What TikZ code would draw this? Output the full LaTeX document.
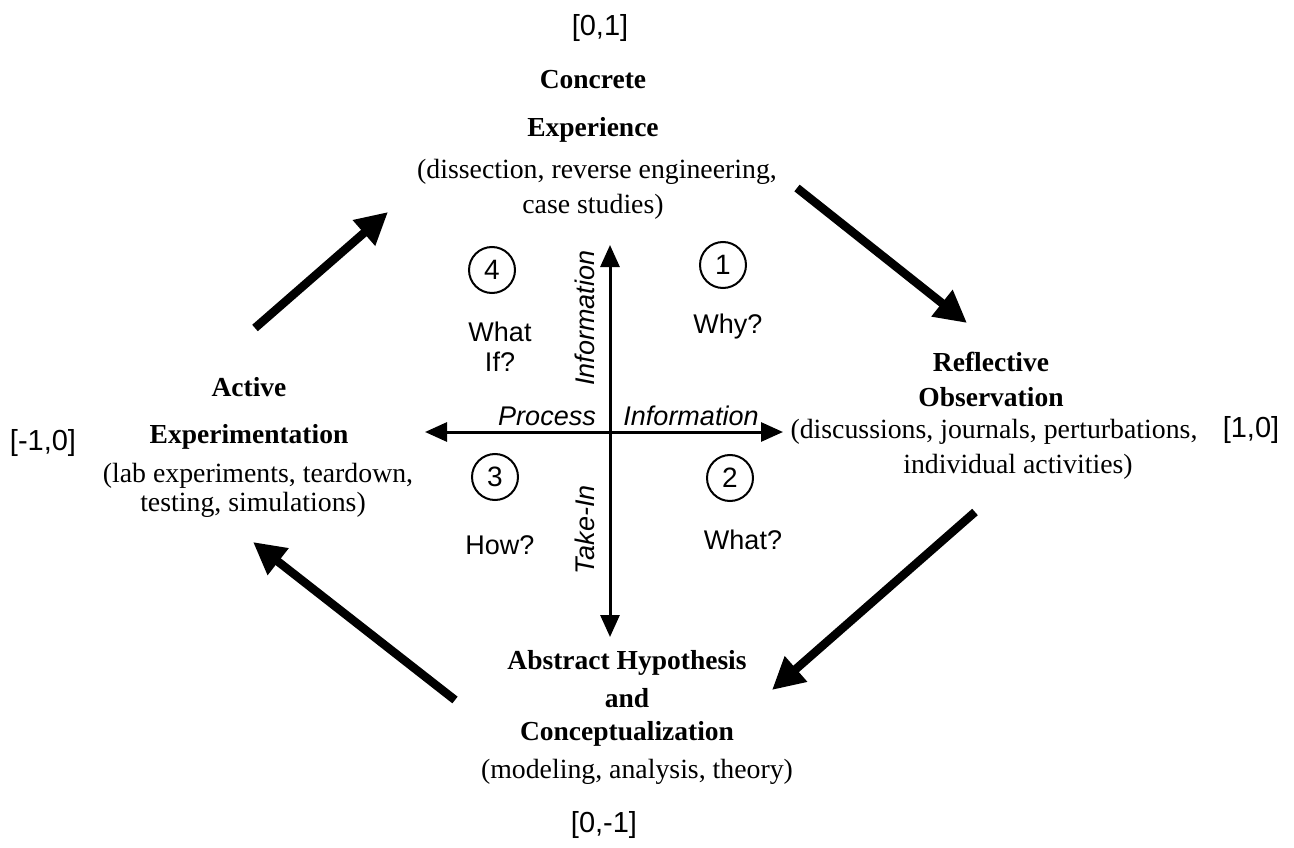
\documentclass[tikz,border=0pt]{standalone}
\usepackage{fontspec}
\setmainfont{Liberation Serif}
\newfontfamily\sansf{Liberation Sans}
\usetikzlibrary{arrows.meta}
\tikzset{
  title/.style={font=\fontsize{27.5}{30}\selectfont\bfseries, inner sep=0pt},
  paren/.style={font=\fontsize{27.8}{30}\selectfont, inner sep=0pt},
  lbl/.style={font=\sansf\fontsize{27}{30}\selectfont, inner sep=0pt},
  ilbl/.style={font=\sansf\itshape\fontsize{27}{30}\selectfont, inner sep=0pt},
  coord/.style={font=\sansf\fontsize{29}{32}\selectfont, inner sep=0pt},
  axis/.style={line width=3pt, -{Triangle[length=22pt,width=19pt]}},
  cyc/.style={line width=8.5pt, -{Triangle[length=32pt,width=32pt]}},
  num/.style={circle, draw, line width=2pt, minimum size=46pt, inner sep=0pt, font=\sansf\fontsize{28}{30}\selectfont},
}
\begin{document}
\begin{tikzpicture}[x=1pt,y=-1pt]
\useasboundingbox (0,0) rectangle (1294,848);
% coordinate labels
\node[coord] (c01) at (600,28) {[0,1]};
\node[coord] (c10) at (1251,430) {[1,0]};
\node[coord] (cm10) at (43,443) {[-1,0]};
\node[coord] (c0m1) at (604,825) {[0,-1]};
% top
\node[title] (ce1) at (593,80) {Concrete};
\node[title] (ce2) at (593,130) {Experience};
\node[paren] (ce3) at (597,172) {(dissection, reverse engineering,};
\node[paren] (ce4) at (593,207) {case studies)};
% right
\node[title] (ro1) at (991,362) {Reflective};
\node[title] (ro2) at (991,397) {Observation};
\node[paren] (ro3) at (994,432) {(discussions, journals, perturbations,};
\node[paren] (ro4) at (1018,467) {individual activities)};
% left
\node[title] (ae1) at (249,387) {Active};
\node[title] (ae2) at (249,437) {Experimentation};
\node[paren] (ae3) at (258,476) {(lab experiments, teardown,};
\node[paren] (ae4) at (253,505) {testing, simulations)};
% bottom
\node[title] (ah1) at (627,663) {Abstract Hypothesis};
\node[title] (ah2) at (627,698) {and};
\node[title] (ah3) at (627,734) {Conceptualization};
\node[paren] (ah4) at (637,772) {(modeling, analysis, theory)};
% axes
\coordinate (o) at (610,432);
\coordinate (top) at (610,245);
\coordinate (bot) at (610,637);
\coordinate (lft) at (425,432);
\coordinate (rgt) at (783,432);
\draw[axis] (o) -- (top);
\draw[axis] (o) -- (bot);
\draw[axis] (o) -- (lft);
\draw[axis] (o) -- (rgt);
\node[ilbl, rotate=90] (vinfo) at (585,318) {Information};
\node[ilbl, rotate=90] (takein) at (585,530) {Take-In};
\node[ilbl] (proc) at (547,416) {Process};
\node[ilbl] (hinfo) at (691,416) {Information};
% quadrants
\node[num] (n4) at (492,270) {4};
\node[num] (n1) at (723,265) {1};
\node[num] (n3) at (495,477) {3};
\node[num] (n2) at (730,478) {2};
\node[lbl, align=center] (q4) at (500,347) {What\\If?};
\node[lbl] (q1) at (728,327) {Why?};
\node[lbl] (q3) at (500,545) {How?};
\node[lbl] (q2) at (743,540) {What?};
% cycle arrows
\coordinate (a1s) at (797,188); \coordinate (a1e) at (967,323);
\coordinate (a2s) at (975,512); \coordinate (a2e) at (772,690);
\coordinate (a3s) at (455,700); \coordinate (a3e) at (253,542);
\coordinate (a4s) at (255,328); \coordinate (a4e) at (388,212);
\draw[cyc] (a1s) -- (a1e);
\draw[cyc] (a2s) -- (a2e);
\draw[cyc] (a3s) -- (a3e);
\draw[cyc] (a4s) -- (a4e);
\end{tikzpicture}
\end{document}
